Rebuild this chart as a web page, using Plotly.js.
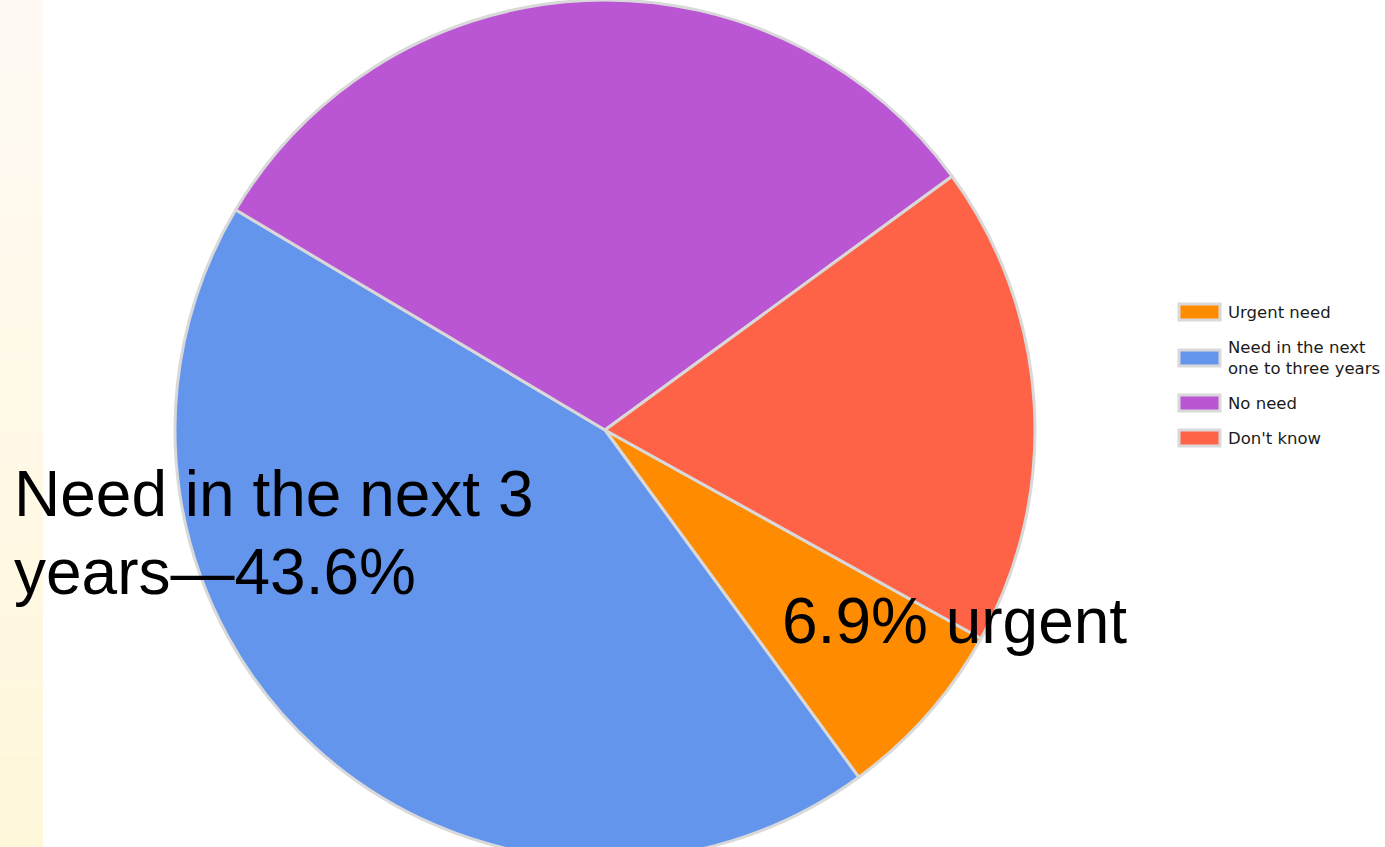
<!DOCTYPE html>
<html>
<head>
<meta charset="utf-8">
<script src="https://cdn.plot.ly/plotly-3.0.1.min.js"></script>
<style>
html,body{margin:0;padding:0;overflow:hidden;background:#ffffff;}
#chart{width:1385px;height:860px;}
</style>
</head>
<body>
<div id="chart"></div>
<script>
// ---- data ----
const categories = ['Urgent need', 'Need in the next one to three years', 'No need', "Don't know"];
const legendLabels = ['Urgent need', 'Need in the next<br>one to three years', 'No need', "Don't know"];
const shares = [6.9, 43.6, 31.4, 18.1];
const sliceColors = ['#ff8c00', '#6495ed', '#ba55d3', '#ff6347'];
const calloutNeed = ['Need in the next 3', 'years\u201443.6%'];
const calloutUrgent = '6.9% urgent';

// ---- layout helpers ----
const W = 1385, H = 860;
const px = x => x / W;
const py = y => 1 - y / H;

const shapes = [];
const annotations = [];

// left pale stripe (vertical gradient built from thin bands)
const bands = 24;
const stripeTop = [255, 250, 244], stripeBot = [255, 247, 218];
for (let i = 0; i < bands; i++) {
  const t = i / (bands - 1);
  const c = stripeTop.map((v, k) => Math.round(v + (stripeBot[k] - v) * t));
  shapes.push({
    type: 'rect', xref: 'paper', yref: 'paper', layer: 'below',
    x0: 0, x1: px(43), y0: py(H * (i + 1) / bands), y1: py(H * i / bands),
    fillcolor: `rgb(${c[0]},${c[1]},${c[2]})`, line: {width: 0}
  });
}

// custom legend
const legendRows = [312, 358, 403, 438];
legendLabels.forEach((lab, i) => {
  const yc = legendRows[i];
  shapes.push({
    type: 'rect', xref: 'paper', yref: 'paper',
    x0: px(1179), x1: px(1220), y0: py(yc + 8), y1: py(yc - 8),
    fillcolor: sliceColors[i], line: {color: '#d9d9d9', width: 3}
  });
  annotations.push({
    xref: 'paper', yref: 'paper', x: px(1226), y: py(yc),
    xanchor: 'left', yanchor: 'middle', align: 'left', showarrow: false,
    text: lab,
    font: {family: 'DejaVu Sans, Verdana, sans-serif', size: 16.5, color: '#1a1a1a'}
  });
});

// big callouts
annotations.push({
  xref: 'paper', yref: 'paper', x: px(12), y: py(494),
  xanchor: 'left', yanchor: 'middle', showarrow: false,
  text: calloutNeed[0],
  font: {family: 'Liberation Sans, Arial, sans-serif', size: 64, color: '#000000'}
});
annotations.push({
  xref: 'paper', yref: 'paper', x: px(12), y: py(572),
  xanchor: 'left', yanchor: 'middle', showarrow: false,
  text: calloutNeed[1],
  font: {family: 'Liberation Sans, Arial, sans-serif', size: 64, color: '#000000'}
});
annotations.push({
  xref: 'paper', yref: 'paper', x: px(954), y: py(621),
  xanchor: 'center', yanchor: 'middle', showarrow: false,
  text: calloutUrgent,
  font: {family: 'Liberation Sans, Arial, sans-serif', size: 64, color: '#000000'}
});

const cx = 605, r = 430;
const trace = {
  type: 'pie',
  labels: categories,
  values: shares,
  sort: false,
  direction: 'clockwise',
  rotation: 119,
  textinfo: 'none',
  hoverinfo: 'label+percent',
  showlegend: false,
  marker: {colors: sliceColors, line: {color: '#d9d9d9', width: 3}},
  domain: {x: [px(cx - r), px(cx + r)], y: [0, 1]}
};

const layout = {
  width: W, height: H,
  margin: {l: 0, r: 0, t: 0, b: 0},
  paper_bgcolor: '#ffffff',
  plot_bgcolor: '#ffffff',
  showlegend: false,
  shapes: shapes,
  annotations: annotations
};

Plotly.newPlot('chart', [trace], layout, {displayModeBar: false, staticPlot: true});
</script>
</body>
</html>
